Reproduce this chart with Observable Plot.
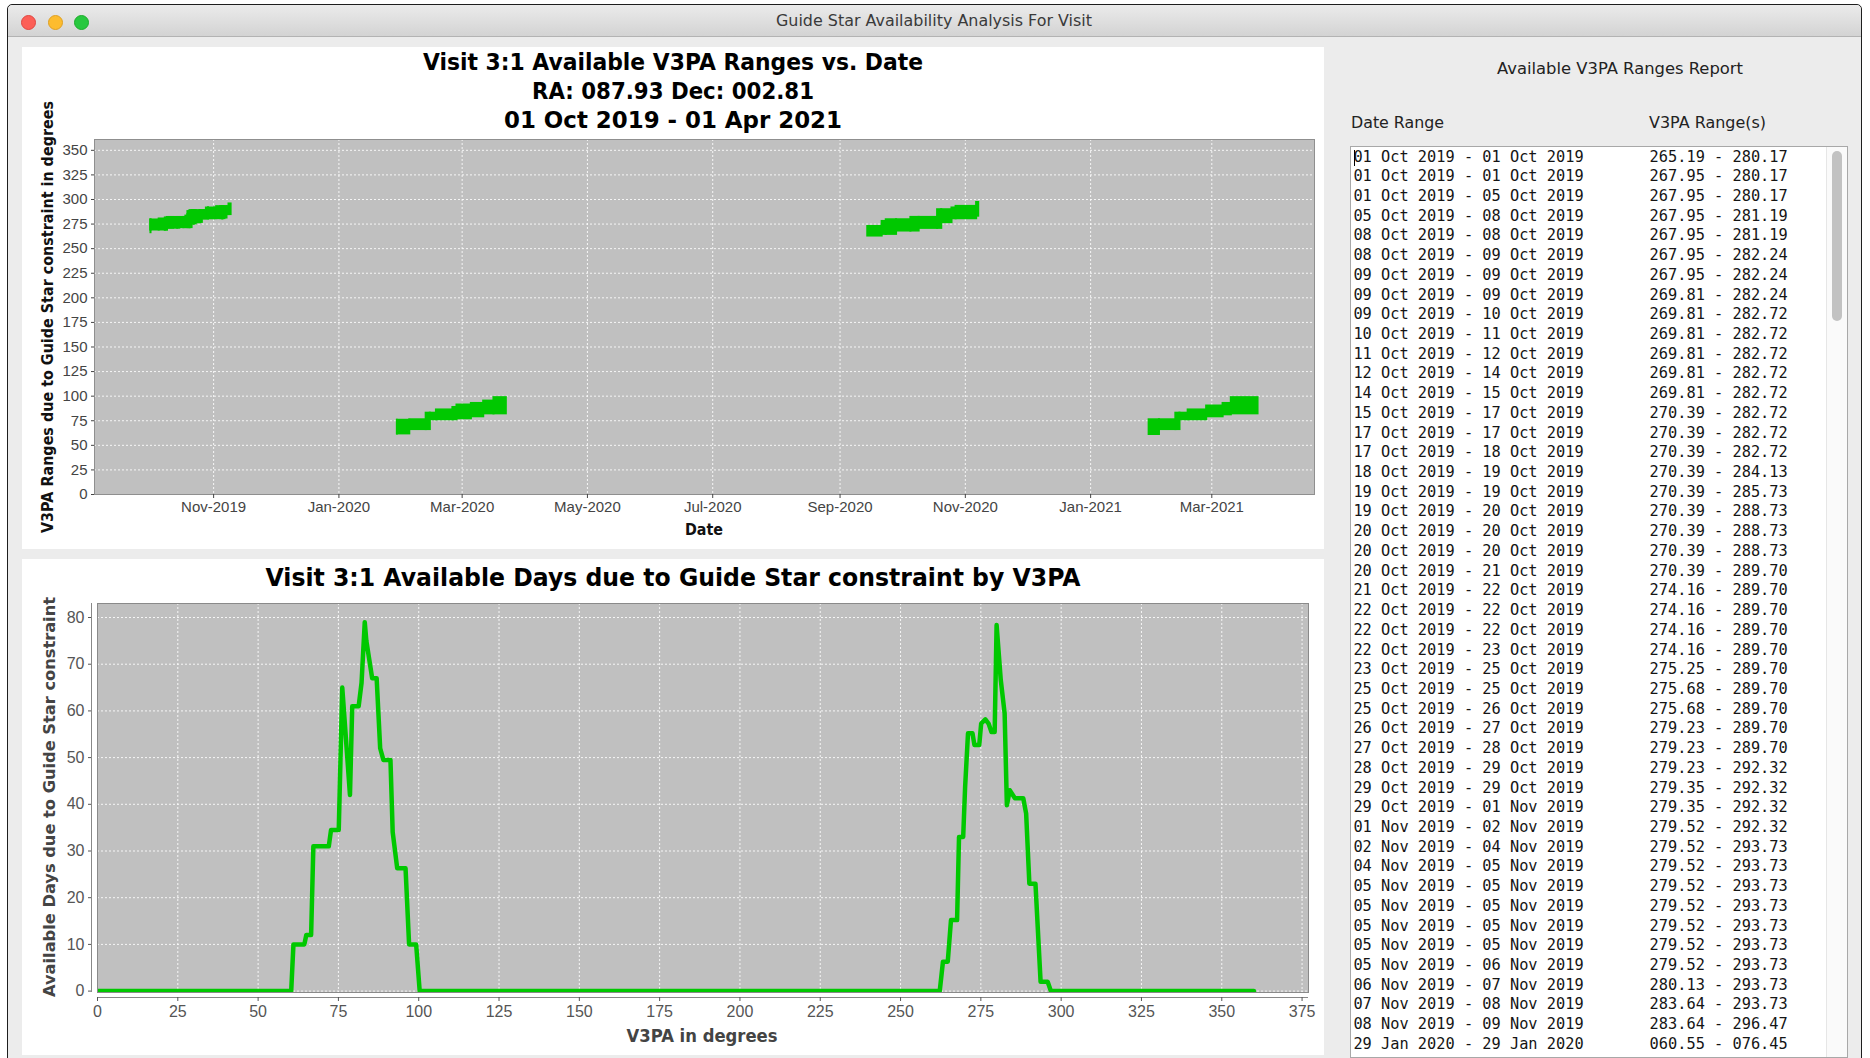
<!DOCTYPE html>
<html>
<head>
<meta charset="utf-8">
<script src="https://cdn.jsdelivr.net/npm/d3@7"></script>
<script src="https://cdn.jsdelivr.net/npm/@observablehq/plot@0.6"></script>
<style>
  html, body { margin: 0; padding: 0; }
  body { width: 1870px; height: 1058px; position: relative; overflow: hidden; background: #fff; font-family: "DejaVu Sans", sans-serif; }
  .panel svg { display: block; }
</style>
</head>
<body>
<script>
// ---------------- DATA ----------------
// Report rows (as listed in the "Available V3PA Ranges Report" panel): start, end, V3PA low, V3PA high
const reportRows = [
  ["01 Oct 2019","01 Oct 2019","265.19","280.17"],
  ["01 Oct 2019","01 Oct 2019","267.95","280.17"],
  ["01 Oct 2019","05 Oct 2019","267.95","280.17"],
  ["05 Oct 2019","08 Oct 2019","267.95","281.19"],
  ["08 Oct 2019","08 Oct 2019","267.95","281.19"],
  ["08 Oct 2019","09 Oct 2019","267.95","282.24"],
  ["09 Oct 2019","09 Oct 2019","267.95","282.24"],
  ["09 Oct 2019","09 Oct 2019","269.81","282.24"],
  ["09 Oct 2019","10 Oct 2019","269.81","282.72"],
  ["10 Oct 2019","11 Oct 2019","269.81","282.72"],
  ["11 Oct 2019","12 Oct 2019","269.81","282.72"],
  ["12 Oct 2019","14 Oct 2019","269.81","282.72"],
  ["14 Oct 2019","15 Oct 2019","269.81","282.72"],
  ["15 Oct 2019","17 Oct 2019","270.39","282.72"],
  ["17 Oct 2019","17 Oct 2019","270.39","282.72"],
  ["17 Oct 2019","18 Oct 2019","270.39","282.72"],
  ["18 Oct 2019","19 Oct 2019","270.39","284.13"],
  ["19 Oct 2019","19 Oct 2019","270.39","285.73"],
  ["19 Oct 2019","20 Oct 2019","270.39","288.73"],
  ["20 Oct 2019","20 Oct 2019","270.39","288.73"],
  ["20 Oct 2019","20 Oct 2019","270.39","288.73"],
  ["20 Oct 2019","21 Oct 2019","270.39","289.70"],
  ["21 Oct 2019","22 Oct 2019","274.16","289.70"],
  ["22 Oct 2019","22 Oct 2019","274.16","289.70"],
  ["22 Oct 2019","22 Oct 2019","274.16","289.70"],
  ["22 Oct 2019","23 Oct 2019","274.16","289.70"],
  ["23 Oct 2019","25 Oct 2019","275.25","289.70"],
  ["25 Oct 2019","25 Oct 2019","275.68","289.70"],
  ["25 Oct 2019","26 Oct 2019","275.68","289.70"],
  ["26 Oct 2019","27 Oct 2019","279.23","289.70"],
  ["27 Oct 2019","28 Oct 2019","279.23","289.70"],
  ["28 Oct 2019","29 Oct 2019","279.23","292.32"],
  ["29 Oct 2019","29 Oct 2019","279.35","292.32"],
  ["29 Oct 2019","01 Nov 2019","279.35","292.32"],
  ["01 Nov 2019","02 Nov 2019","279.52","292.32"],
  ["02 Nov 2019","04 Nov 2019","279.52","293.73"],
  ["04 Nov 2019","05 Nov 2019","279.52","293.73"],
  ["05 Nov 2019","05 Nov 2019","279.52","293.73"],
  ["05 Nov 2019","05 Nov 2019","279.52","293.73"],
  ["05 Nov 2019","05 Nov 2019","279.52","293.73"],
  ["05 Nov 2019","05 Nov 2019","279.52","293.73"],
  ["05 Nov 2019","06 Nov 2019","279.52","293.73"],
  ["06 Nov 2019","07 Nov 2019","280.13","293.73"],
  ["07 Nov 2019","08 Nov 2019","283.64","293.73"],
  ["08 Nov 2019","09 Nov 2019","283.64","296.47"],
  ["29 Jan 2020","29 Jan 2020","060.55","076.45"]
];

// Ranges (not listed in the visible part of the report)
const rangesFeb2020 = [
  ["29 Jan 2020","04 Feb 2020",60.6,76.5],
  ["04 Feb 2020","12 Feb 2020",65,77],
  ["12 Feb 2020","14 Feb 2020",65,83.7],
  ["14 Feb 2020","17 Feb 2020",75,83.7],
  ["17 Feb 2020","25 Feb 2020",75,87],
  ["25 Feb 2020","27 Feb 2020",75,89.5],
  ["27 Feb 2020","05 Mar 2020",76,92],
  ["05 Mar 2020","11 Mar 2020",78,93.6],
  ["11 Mar 2020","16 Mar 2020",81,96],
  ["16 Mar 2020","22 Mar 2020",81,99.5]
];
const rangesOct2020 = [
  ["14 Sep 2020","21 Sep 2020",261.8,273.6],
  ["21 Sep 2020","23 Sep 2020",263.5,278.7],
  ["23 Sep 2020","28 Sep 2020",263.5,280.4],
  ["28 Sep 2020","05 Oct 2020",266.9,280.4],
  ["05 Oct 2020","09 Oct 2020",266.9,282.8],
  ["09 Oct 2020","18 Oct 2020",269.6,282.8],
  ["18 Oct 2020","20 Oct 2020",269.6,290.6],
  ["20 Oct 2020","25 Oct 2020",275.4,290.6],
  ["25 Oct 2020","27 Oct 2020",279.4,292.4],
  ["27 Oct 2020","06 Nov 2020",279.4,294],
  ["06 Nov 2020","07 Nov 2020",282,298]
];
const rangesFeb2021 = [
  ["29 Jan 2021","03 Feb 2021",60,77],
  ["03 Feb 2021","11 Feb 2021",65,77],
  ["11 Feb 2021","13 Feb 2021",65,83.7],
  ["13 Feb 2021","17 Feb 2021",75,83.7],
  ["17 Feb 2021","26 Feb 2021",75,87],
  ["26 Feb 2021","06 Mar 2021",78,91],
  ["06 Mar 2021","10 Mar 2021",80,93.6],
  ["10 Mar 2021","23 Mar 2021",81,99.5]
];

// Top chart axes
const dateDomain = ["2019-09-04", "2021-04-20"];
const monthTicks = ["2019-11-01","2020-01-01","2020-03-01","2020-05-01","2020-07-01","2020-09-01","2020-11-01","2021-01-01","2021-03-01"];
const v3paTicksTop = [0,25,50,75,100,125,150,175,200,225,250,275,300,325,350];

// Bottom chart: V3PA (deg) vs available days
const v3pa = [0,60.3,61,64.4,65,66.5,67.2,72,72.7,75.1,76.2,78.6,79.3,81.3,82.2,83.2,83.7,85.5,86.9,88,89,91.2,91.9,93.3,95.9,97,99.2,100.3,
  262.2,263.2,264.7,265.7,267.6,268.2,269.5,270.1,271,272.4,273,274.5,275.1,276.4,277.4,278.3,279.3,279.9,281.2,282.4,283.1,284,285.6,288.2,289.1,290.1,292,293.6,295.8,296.8,360];
const availableDays = [0,0,10,10,12,12,31,31,34.5,34.5,65,42,61,61,66,79,75,67,67,52,49.5,49.5,34,26.3,26.3,10,10,0,
  0,6.3,6.3,15.2,15.2,33,33,43.7,55.2,55.2,52.7,52.7,57.3,58.2,57.3,55.5,55.5,78.4,66.6,59.5,39.8,43,41.3,41.3,38,23,23,2,2,0,0];
const v3paTicksBottom = [0,25,50,75,100,125,150,175,200,225,250,275,300,325,350,375];
const dayTicks = [0,10,20,30,40,50,60,70,80];

// ---------------- HELPERS ----------------
const parseD = d3.utcParse("%d %b %Y");
function place(el, css) { Object.assign(el.style, css); document.body.appendChild(el); return el; }
function label(text, o) {
  const el = document.createElement("div");
  el.textContent = text;
  place(el, {position:"absolute", left:o.x+"px", top:o.y+"px", fontSize:o.size+"px", fontWeight:o.weight||400,
    color:o.color||"#000", fontFamily:o.family||"'DejaVu Sans', sans-serif", whiteSpace:"pre", lineHeight:"1"});
  const k = o.w ? o.w / el.getBoundingClientRect().width : 1;
  if (o.anchor === "start") {
    el.style.transformOrigin = "0 50%";
    el.style.transform = `translate(0,-50%) scaleX(${k})`;
  } else {
    el.style.transform = `translate(-50%,-50%) ${o.rotate ? "rotate(-90deg) " : ""}scaleX(${k})`;
  }
  return el;
}
function box(css) { return place(document.createElement("div"), Object.assign({position:"absolute"}, css)); }

// ---------------- WINDOW CHROME ----------------
box({left:"7px", top:"4px", width:"1855px", height:"1060px", background:"#ececec", border:"1px solid #1e1e1e", borderRadius:"5px 5px 0 0", boxSizing:"border-box"});
box({left:"8px", top:"5px", width:"1853px", height:"31px", background:"linear-gradient(#ebebeb,#d3d3d3)", borderBottom:"1px solid #b3b3b3", borderRadius:"5px 5px 0 0"});
[["#fc5f57","#e14640",28],["#fdbc2e","#dfa023",55],["#28c83f","#1dad2b",81]].forEach(([c,b,cx]) =>
  box({left:(cx-7.5)+"px", top:"14.5px", width:"15px", height:"15px", borderRadius:"50%", background:c, boxSizing:"border-box", border:"0.5px solid "+b}));
label("Guide Star Availability Analysis For Visit", {x:934, y:21, size:15, color:"#3a3a3a", w:316});

// ---------------- TOP CHART ----------------
const rectData = [
  ...reportRows.map(([s,e,lo,hi]) => ({start:parseD(s), end:parseD(e), lo:+lo, hi:+hi})),
  ...[...rangesFeb2020, ...rangesOct2020, ...rangesFeb2021].map(([s,e,lo,hi]) => ({start:parseD(s), end:parseD(e), lo, hi}))
].map(d => ({...d, end: d3.utcDay.offset(d.end, 1)}));

const gridStyle = {stroke:"white", strokeOpacity:0.85, strokeDasharray:"2,2", strokeWidth:1};
const topPanel = box({left:"22px", top:"47px", width:"1302px", height:"502px", background:"#fff"});
topPanel.className = "panel";
topPanel.appendChild(Plot.plot({
  width:1302, height:502, marginLeft:72, marginRight:10, marginTop:92, marginBottom:55,
  style:{fontFamily:"'Liberation Sans', Arial, sans-serif", fontSize:"15px", background:"#fff", color:"#444"},
  x:{type:"utc", domain:dateDomain.map(d => new Date(d))},
  y:{domain:[0,361]},
  marks:[
    Plot.frame({fill:"#c0c0c0"}),
    Plot.gridX({ticks:monthTicks.map(d => new Date(d)), ...gridStyle}),
    Plot.gridY({ticks:v3paTicksTop, ...gridStyle}),
    Plot.rect(rectData, {x1:"start", x2:"end", y1:"lo", y2:"hi", fill:"#00c800", clip:true}),
    Plot.frame({stroke:"#8f8f8f"}),
    Plot.axisX({ticks:monthTicks.map(d => new Date(d)), tickFormat:d3.utcFormat("%b-%Y"), tickSize:4, tickPadding:3, label:null, color:"#444"}),
    Plot.axisY({ticks:v3paTicksTop, tickSize:3, tickPadding:4, label:null, color:"#444"})
  ]
}));
label("Visit 3:1 Available V3PA Ranges vs. Date", {x:672.5, y:62, size:23, weight:700, w:500});
label("RA: 087.93 Dec: 002.81", {x:672.5, y:91, size:23, weight:700, w:282});
label("01 Oct 2019 - 01 Apr 2021", {x:672.5, y:119.5, size:23, weight:700, w:338});
label("V3PA Ranges due to Guide Star constraint in degrees", {x:48, y:316.5, size:15, weight:700, w:432, rotate:true, color:"#111"});
label("Date", {x:704, y:530, size:16, weight:700, w:38, color:"#111"});

// ---------------- BOTTOM CHART ----------------
const linePts = v3pa.map((x, i) => ({x, y: availableDays[i]}));
const botPanel = box({left:"22px", top:"559px", width:"1302px", height:"496px", background:"#fff"});
botPanel.className = "panel";
botPanel.appendChild(Plot.plot({
  width:1302, height:496, marginLeft:75, marginRight:16, marginTop:44, marginBottom:63,
  style:{fontFamily:"'Liberation Sans', Arial, sans-serif", fontSize:"16px", background:"#fff", color:"#444"},
  x:{domain:[0,377]},
  y:{domain:[-0.3,83]},
  marks:[
    Plot.frame({fill:"#c0c0c0"}),
    Plot.gridX({ticks:v3paTicksBottom, ...gridStyle}),
    Plot.gridY({ticks:dayTicks, ...gridStyle}),
    Plot.line(linePts, {x:"x", y:"y", stroke:"#00c800", strokeWidth:4.5, strokeLinejoin:"round", clip:true}),
    Plot.frame({stroke:"#8a8a8a"}),
    Plot.ruleY([-0.3], {dy:5, stroke:"#888"}),
    Plot.ruleX([0], {dx:-6, stroke:"#888"}),
    Plot.axisX({ticks:v3paTicksBottom, tickSize:4, tickPadding:4, dy:5, label:null, color:"#555"}),
    Plot.axisY({ticks:dayTicks, tickSize:3, tickPadding:4, dx:-6, label:null, color:"#555"})
  ]
}));
label("Visit 3:1 Available Days due to Guide Star constraint by V3PA", {x:672.5, y:577, size:25, weight:700, w:815});
label("Available Days due to Guide Star constraint", {x:50, y:797, size:16, weight:700, w:400, rotate:true, color:"#444"});
label("V3PA in degrees", {x:702, y:1036, size:17, weight:700, w:151, color:"#444"});

// ---------------- REPORT PANEL ----------------
label("Available V3PA Ranges Report", {x:1620, y:69, size:16, color:"#222", w:246});
label("Date Range", {x:1351, y:123, size:16, color:"#222", w:93, anchor:"start"});
label("V3PA Range(s)", {x:1648.5, y:123, size:16, color:"#222", w:117, anchor:"start"});
const tbl = box({left:"1350px", top:"146px", width:"498px", height:"912px", background:"#fff", border:"1px solid #a8a8a8", boxSizing:"border-box", overflow:"hidden"});
// scrollbar
const track = document.createElement("div");
Object.assign(track.style, {position:"absolute", left:"475px", top:"0px", width:"21px", height:"100%", background:"#fafafa", borderLeft:"1px solid #e6e6e6"});
tbl.appendChild(track);
const thumb = document.createElement("div");
Object.assign(thumb.style, {position:"absolute", left:"481px", top:"4px", width:"10px", height:"170px", background:"#c2c2c2", borderRadius:"5px"});
tbl.appendChild(thumb);
const rowStep = 19.72;
reportRows.forEach(([s,e,lo,hi], i) => {
  const mk = (txt, left) => {
    const r = document.createElement("div");
    r.textContent = txt;
    Object.assign(r.style, {position:"absolute", left:left+"px", top:(0.5 + i*rowStep)+"px", height:rowStep+"px", lineHeight:rowStep+"px",
      fontFamily:"'DejaVu Sans Mono', monospace", fontSize:"15.3px", color:"#151515", whiteSpace:"pre"});
    tbl.appendChild(r);
  };
  mk(`${s} - ${e}`, 2.4);
  mk(`${lo} - ${hi}`, 298.6);
});
const caret = document.createElement("div");
Object.assign(caret.style, {position:"absolute", left:"3px", top:"3px", width:"1px", height:"16px", background:"#000"});
tbl.appendChild(caret);
</script>
</body>
</html>
